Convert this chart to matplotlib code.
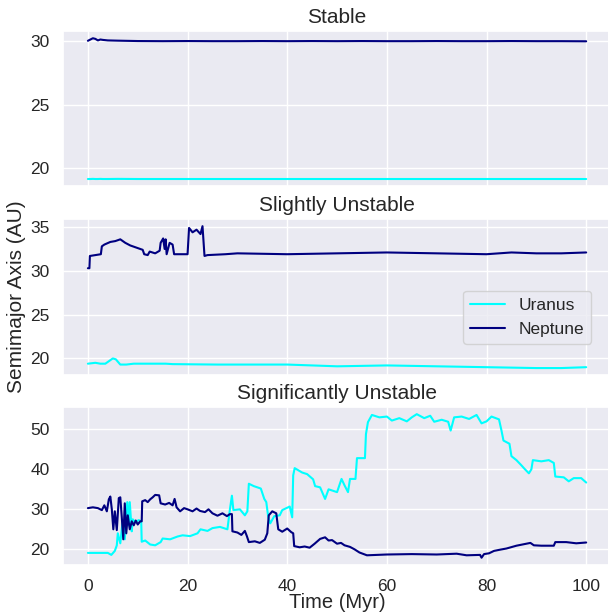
import numpy as np
import matplotlib
matplotlib.use("Agg")
import matplotlib.pyplot as plt
import seaborn as sns

# --- Stable run -------------------------------------------------------------
stable_t = [0, 0.5, 1.0, 1.5, 2.0, 2.5, 3.0, 4.0, 6.0, 10, 15, 20, 25, 30, 35, 40,
            45, 50, 55, 60, 65, 70, 75, 80, 85, 90, 95, 100]
stable_uranus = [19.15, 19.15, 19.16, 19.15, 19.15, 19.16, 19.15, 19.15, 19.16, 19.15,
                 19.15, 19.15, 19.15, 19.15, 19.15, 19.15, 19.15, 19.15, 19.15, 19.15,
                 19.15, 19.15, 19.15, 19.15, 19.15, 19.15, 19.15, 19.15]
stable_neptune = [30.05, 30.15, 30.25, 30.2, 30.08, 30.15, 30.12, 30.08, 30.06, 30.03,
                  30.02, 30.03, 30.02, 30.02, 30.03, 30.02, 30.03, 30.02, 30.03, 30.02,
                  30.02, 30.03, 30.02, 30.02, 30.03, 30.02, 30.02, 30.01]

# --- Slightly unstable run --------------------------------------------------
slight_t_u = [0, 1.5, 2.5, 3.5, 5.0, 5.6, 6.5, 7.7, 9.2, 15.6, 17, 26, 40, 50, 60, 70,
              80, 90, 95, 100]
slight_uranus = [19.4, 19.5, 19.4, 19.4, 20.0, 19.9, 19.3, 19.3, 19.4, 19.4, 19.35,
                 19.3, 19.3, 19.1, 19.2, 19.1, 19.0, 18.9, 18.9, 19.0]
slight_t_n = [0, 0.3, 0.4, 1.5, 2.6, 2.8, 3.3, 4.5, 5.5, 6.5, 7.5, 8.5, 9.5, 10.5, 11.0,
              11.3, 12.0, 12.4, 13.5, 14.4, 14.6, 15.1, 15.4, 15.6, 15.8, 16.4, 17.0,
              17.3, 20.0, 20.3, 21.0, 21.8, 22.6, 23.0, 23.4, 24.0, 27.6, 30, 40, 50,
              60, 70, 80, 85, 90, 95, 100]
slight_neptune = [30.3, 30.3, 31.7, 31.8, 31.9, 32.8, 33.0, 33.3, 33.4, 33.6, 33.2,
                  32.9, 32.7, 32.5, 32.4, 31.9, 31.8, 32.2, 32.0, 32.3, 33.2, 33.7,
                  32.5, 33.6, 31.9, 33.2, 33.0, 31.9, 31.9, 34.9, 34.4, 34.7, 34.2,
                  35.1, 31.7, 31.8, 31.9, 32.0, 31.9, 32.0, 32.1, 32.0, 31.9, 32.1,
                  32.0, 32.0, 32.1]

# --- Significantly unstable run ---------------------------------------------
sig_t_u = [0, 4.0, 4.7, 5.4, 5.8, 6.0, 6.5, 7.0, 7.4, 7.9, 8.2, 8.4, 8.8, 9.0, 9.5,
           10.2, 10.7, 10.8, 11.5, 12.5, 13.5, 14.6, 15.0, 16.5, 18.0, 19.0, 20.5,
           22.0, 22.6, 24.0, 25.0, 26.5, 28.0, 28.5, 28.9, 29.2, 30.5, 31.5, 32.0,
           32.3, 33.3, 34.7, 35.4, 35.8, 36.2, 36.6, 37.4, 38.5, 39.0, 40.5, 41.0,
           41.2, 41.5, 43.0, 44.0, 45.2, 45.6, 46.6, 47.6, 48.3, 50.0, 50.9, 51.5,
           52.2, 52.6, 53.7, 54.0, 55.6, 55.8, 56.2, 57.0, 58.5, 60.0, 61.0, 62.5,
           64.0, 65.0, 66.0, 67.5, 68.7, 69.5, 71.0, 72.3, 72.8, 73.5, 75.0, 76.5,
           78.0, 79.0, 80.0, 81.0, 82.5, 83.0, 83.4, 84.6, 85.0, 86.0, 87.0, 87.5,
           88.5, 89.0, 89.3, 91.0, 92.5, 93.5, 93.8, 95.5, 96.5, 97.5, 99.0, 100]
sig_uranus = [19.1, 19.1, 18.6, 19.6, 21.0, 24.0, 21.5, 27.4, 22.5, 31.8, 26.0, 31.8,
              24.5, 27.5, 26.8, 27.3, 27.0, 21.9, 22.2, 21.2, 21.0, 21.8, 22.7, 22.5,
              23.2, 23.5, 23.3, 24.0, 25.0, 24.6, 25.3, 25.6, 25.0, 30.0, 33.4, 29.8,
              30.0, 28.5, 29.5, 36.4, 35.8, 35.2, 32.6, 31.8, 28.0, 26.5, 28.3, 28.5,
              29.8, 30.7, 28.0, 38.5, 40.3, 39.2, 38.8, 37.5, 35.8, 35.5, 32.6, 35.0,
              34.3, 37.6, 36.0, 34.3, 37.6, 37.6, 42.8, 42.8, 48.8, 51.8, 53.6, 53.0,
              53.2, 52.2, 52.8, 52.0, 53.0, 53.8, 52.8, 53.4, 51.9, 52.4, 51.9, 49.7,
              53.0, 53.2, 52.6, 53.6, 51.5, 52.0, 53.2, 52.5, 49.7, 47.2, 46.4, 43.3,
              42.3, 41.0, 40.3, 39.0, 40.0, 42.3, 42.0, 42.3, 41.6, 38.2, 38.0, 37.0,
              37.8, 37.8, 36.7]
sig_t_n = [0, 1, 2, 2.8, 3.3, 3.8, 4.2, 4.5, 4.8, 5.1, 5.4, 5.8, 6.2, 6.5, 6.8, 7.1,
           7.4, 7.7, 8.0, 8.4, 8.8, 9.2, 9.6, 10.0, 10.5, 10.8, 10.9, 11.5, 12.0, 12.5,
           13.0, 13.5, 14.3, 14.6, 15.5, 16.3, 17.0, 17.4, 17.8, 18.5, 19.3, 20.0, 21.0,
           21.8, 22.5, 23.5, 24.2, 25.0, 26.0, 27.0, 27.9, 28.5, 28.9, 29.0, 30.0, 30.8,
           31.5, 31.9, 32.3, 33.5, 34.5, 35.5, 36.0, 36.3, 37.0, 37.8, 38.2, 39.0, 40.0,
           40.8, 41.2, 41.4, 42.5, 43.5, 44.5, 45.5, 46.6, 47.6, 48.3, 49.0, 50.0, 50.8,
           51.5, 52.6, 53.5, 54.5, 56.0, 60, 65, 70, 74, 76, 78.7, 79.0, 79.5, 80.5,
           81.5, 82.7, 84, 86, 88.8, 89.5, 91, 93.5, 93.8, 96, 98, 100]
sig_neptune = [30.3, 30.5, 30.3, 29.8, 31.0, 29.5, 32.5, 33.2, 30.0, 25.0, 29.5, 24.8,
               32.8, 33.0, 28.0, 22.5, 31.5, 24.0, 28.5, 25.0, 27.0, 26.0, 27.2, 26.2,
               27.0, 27.0, 32.0, 32.3, 31.8, 32.5, 33.0, 33.6, 33.5, 31.5, 31.2, 31.6,
               31.0, 32.6, 30.5, 29.5, 30.3, 30.0, 29.5, 30.2, 29.6, 29.3, 30.0, 29.0,
               28.4, 29.0, 28.3, 28.8, 28.8, 24.5, 24.2, 23.6, 24.6, 23.3, 21.8, 22.0,
               21.6, 22.4, 24.0, 28.5, 29.5, 29.0, 25.0, 24.4, 25.2, 24.3, 24.0, 20.8,
               20.5, 20.7, 20.4, 21.4, 22.6, 23.0, 22.2, 22.3, 21.4, 21.6, 21.0, 20.6,
               20.0, 19.2, 18.5, 18.7, 18.8, 18.7, 18.9, 18.5, 18.6, 17.9, 18.8, 19.0,
               19.6, 19.9, 20.2, 20.9, 21.6, 21.0, 20.9, 20.9, 21.8, 21.8, 21.5, 21.7]

titles = ["Stable", "Slightly Unstable", "Significantly Unstable"]
xticks = [0, 20, 40, 60, 80, 100]

sns.set_theme(style="darkgrid")
plt.rcParams["font.family"] = ["Liberation Sans", "DejaVu Sans"]
text_color = "#262626"

fig = plt.figure(figsize=(6.08, 6.12), dpi=100)
# axes boxes in figure fractions: [left, bottom, width, height]
boxes = [
    [0.1036, 0.696, 0.9015, 0.253],
    [0.1036, 0.387, 0.9015, 0.255],
    [0.1036, 0.077, 0.9015, 0.258],
]
axes = [fig.add_axes(b) for b in boxes]

runs = [
    ((stable_t, stable_uranus), (stable_t, stable_neptune)),
    ((slight_t_u, slight_uranus), (slight_t_n, slight_neptune)),
    ((sig_t_u, sig_uranus), (sig_t_n, sig_neptune)),
]

for ax, title, (ura, nep) in zip(axes, titles, runs):
    ax.plot(ura[0], ura[1], color="cyan", lw=1.5, label="Uranus")
    ax.plot(nep[0], nep[1], color="navy", lw=1.5, label="Neptune")
    ax.set_title(title, fontsize=15, color=text_color, pad=6)
    ax.set_xticks(xticks)
    ax.tick_params(labelsize=12.5, colors=text_color)
    ax.tick_params(axis="x", pad=4)
    ax.set_xlim(-5, 105)

axes[0].set_xticklabels([])
axes[1].set_xticklabels([])
axes[0].set_yticks([20, 25, 30])
axes[1].set_yticks([20, 25, 30, 35])
axes[2].set_yticks([20, 30, 40, 50])

axes[1].set_ylabel("Semimajor Axis (AU)", fontsize=15, color=text_color, labelpad=3)
axes[2].set_xlabel("Time (Myr)", fontsize=14.5, color=text_color)
axes[2].xaxis.set_label_coords(0.5, -0.178)

leg = axes[1].legend(loc="center right", bbox_to_anchor=(0.98, 0.37),
                     fontsize=12.5, frameon=True)
for t in leg.get_texts():
    t.set_color(text_color)

fig.savefig("out.png", dpi=100)
